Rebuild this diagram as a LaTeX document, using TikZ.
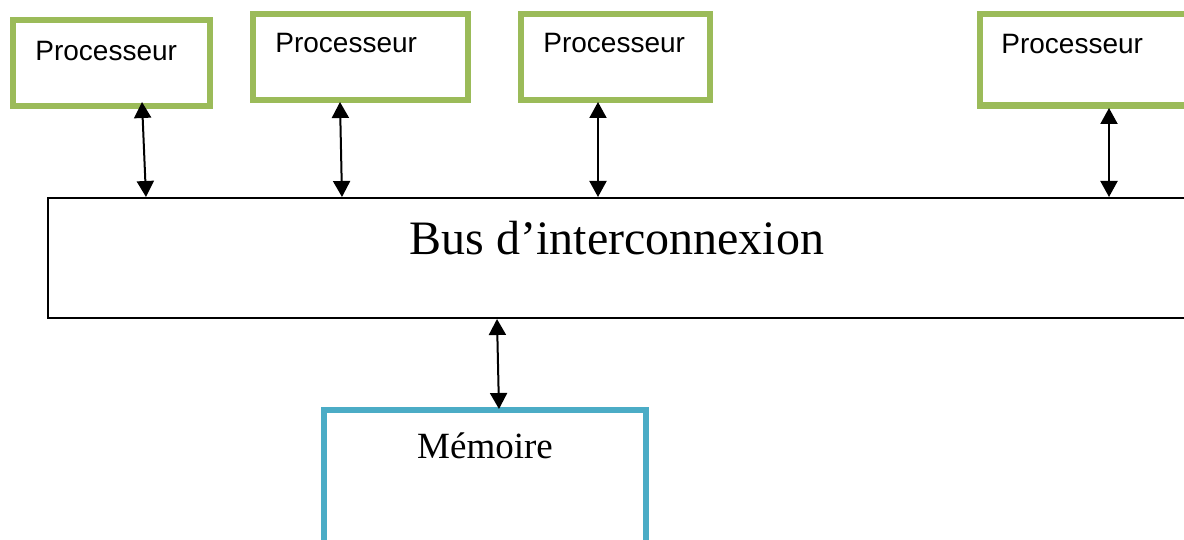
\documentclass[tikz,border=0pt]{standalone}
\usepackage{fontspec}
\setmainfont{Liberation Serif}
\newfontfamily\arialfont{Liberation Sans}
\usetikzlibrary{arrows.meta,calc}
\definecolor{procgreen}{HTML}{9BBB59}
\definecolor{memteal}{HTML}{4BACC6}
\begin{document}
\begin{tikzpicture}[x=0.5pt,y=-0.5pt,
  box/.style={rectangle,anchor=north west,inner sep=0pt,outer sep=0pt,fill=white},
  procbox/.style={box,draw=procgreen,line width=3.25pt},
  membox/.style={box,draw=memteal,line width=3.25pt},
  busbox/.style={box,draw=black,line width=1pt},
  proclabel/.style={inner sep=0pt,anchor=base west,font=\arialfont\fontsize{14}{16}\selectfont},
  seriflabel/.style={inner sep=0pt,anchor=base},
  biarrow/.style={line width=1pt,{Triangle[width=8.5pt,length=8pt]}-{Triangle[width=8.5pt,length=8pt]}}]
\clip (0,0) rectangle (1184,540);
\fill[white] (0,0) rectangle (1184,540);

% processors (sizes in pt: half the drawing units)
\node[procbox,minimum width=98.5pt,minimum height=43pt] (p1) at (13,20) {};
\node[procbox,minimum width=107.5pt,minimum height=43pt] (p2) at (253,14) {};
\node[procbox,minimum width=94.5pt,minimum height=43pt] (p3) at (521,14) {};
\node[procbox,minimum width=106pt,minimum height=45.75pt] (p4) at (980,14) {};

\node[proclabel] (t1) at ($(p1.north west)+(22,41)$) {Processeur};
\node[proclabel] (t2) at ($(p2.north west)+(22,39)$) {Processeur};
\node[proclabel] (t3) at ($(p3.north west)+(22,39)$) {Processeur};
\node[proclabel] (t4) at ($(p4.north west)+(21,40)$) {Processeur};

% interconnection bus
\node[busbox,minimum width=572pt,minimum height=60pt] (bus) at (48,198) {};
\node[seriflabel,font=\fontsize{24}{28}\selectfont] (bustext) at ($(bus.north west)+(569,57)$) {Bus d’interconnexion};

% memory
\node[membox,minimum width=161pt,minimum height=75pt] (mem) at (324,410) {};
\node[seriflabel,font=\fontsize{18.5}{22}\selectfont] (memtext) at ($(mem.north west)+(161,48)$) {Mémoire};

% links
\draw[biarrow] ($(p1.south west)+(129,-4)$) -- ($(bus.north west)+(98,-1)$);
\draw[biarrow] ($(p2.south west)+(87,2)$) -- ($(bus.north west)+(294,-1)$);
\draw[biarrow] ($(p3.south west)+(77,2)$) -- ($(bus.north west)+(550,-1)$);
\draw[biarrow] ($(p4.south west)+(129,2.5)$) -- ($(bus.north west)+(1061,-1)$);
\draw[biarrow] ($(bus.south west)+(449,1)$) -- ($(mem.north west)+(175,-1)$);
\end{tikzpicture}
\end{document}
